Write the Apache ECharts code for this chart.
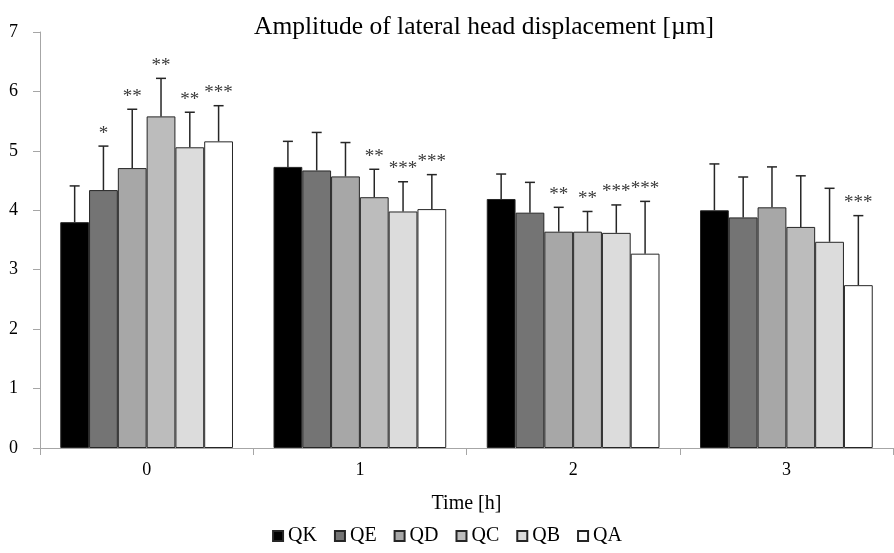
<!DOCTYPE html>
<html>
<head>
<meta charset="utf-8">
<script src="https://cdn.jsdelivr.net/npm/echarts@6/dist/echarts.min.js"></script>
<style>html,body{margin:0;padding:0;background:#fff}#c{width:894px;height:553px}</style>
</head>
<body>
<div id="c"></div>
<script>
const categories = ['0', '1', '2', '3'];
const seriesNames = ['QK', 'QE', 'QD', 'QC', 'QB', 'QA'];
const yTicks = [0, 1, 2, 3, 4, 5, 6, 7];

const QK = [3.80, 4.73, 4.19, 4.00];
const QE = [4.34, 4.67, 3.96, 3.88];
const QD = [4.71, 4.57, 3.64, 4.05];
const QC = [5.58, 4.22, 3.64, 3.72];
const QB = [5.06, 3.98, 3.62, 3.47];
const QA = [5.16, 4.02, 3.27, 2.74];

const QK_sd = [0.61, 0.43, 0.42, 0.78];
const QE_sd = [0.74, 0.64, 0.51, 0.68];
const QD_sd = [0.99, 0.57, 0.41, 0.68];
const QC_sd = [0.64, 0.47, 0.34, 0.86];
const QB_sd = [0.59, 0.50, 0.47, 0.90];
const QA_sd = [0.60, 0.58, 0.88, 1.17];

const QK_sig = ['', '', '', ''];
const QE_sig = ['*', '', '', ''];
const QD_sig = ['**', '', '**', ''];
const QC_sig = ['**', '**', '**', ''];
const QB_sig = ['**', '***', '***', ''];
const QA_sig = ['***', '***', '***', '***'];

const means = [QK, QE, QD, QC, QB, QA];
const sds = [QK_sd, QE_sd, QD_sd, QC_sd, QB_sd, QA_sd];
const sigs = [QK_sig, QE_sig, QD_sig, QC_sig, QB_sig, QA_sig];
const colors = ['#000000', '#747474', '#a7a7a7', '#bcbcbc', '#dcdcdc', '#ffffff'];

const CAT_GAP = 0.19;
const FONT = 'Liberation Serif';

const chart = echarts.init(document.getElementById('c'));

const series = [];
seriesNames.forEach((name, i) => {
  series.push({
    name: name,
    type: 'bar',
    data: means[i],
    barGap: '0%',
    barCategoryGap: (CAT_GAP * 100) + '%',
    itemStyle: { color: colors[i], borderColor: '#262626', borderWidth: 1 },
    z: 2
  });
});
seriesNames.forEach((name, i) => {
  series.push({
    type: 'custom',
    name: name + '_err',
    data: categories.map((c, k) => [k, means[i][k], means[i][k] + sds[i][k], sigs[i][k]]),
    encode: { x: 0, y: [1, 2] },
    z: 3,
    silent: true,
    renderItem: function (params, api) {
      const k = api.value(0);
      const base = api.coord([k, api.value(1)]);
      const top = api.coord([k, api.value(2)]);
      const catW = api.size([1, 0])[0];
      const barW = catW * (1 - CAT_GAP) / seriesNames.length;
      const x = base[0] + (i - (seriesNames.length - 1) / 2) * barW;
      const cap = 5;
      const style = { stroke: '#262626', lineWidth: 1.5 };
      const children = [
        { type: 'line', shape: { x1: x, y1: base[1], x2: x, y2: top[1] }, style: style },
        { type: 'line', shape: { x1: x - cap, y1: top[1], x2: x + cap, y2: top[1] }, style: style }
      ];
      const s = sigs[i][k];
      if (s) {
        children.push({
          type: 'text',
          style: {
            text: s, x: x, y: top[1] - 3, align: 'center', verticalAlign: 'bottom',
            fill: '#3a3a3a', font: '19px "' + FONT + '"'
          }
        });
      }
      return { type: 'group', children: children };
    }
  });
});

chart.setOption({
  animation: false,
  backgroundColor: '#fff',
  title: {
    text: 'Amplitude of lateral head displacement [µm]',
    left: 249, top: 9,
    textStyle: { fontFamily: FONT, fontSize: 25.5, fontWeight: 'normal', color: '#000' }
  },
  legend: {
    data: seriesNames,
    bottom: 2, left: 'center',
    icon: 'rect', itemWidth: 10, itemHeight: 10, itemGap: 17,
    textStyle: { fontFamily: FONT, fontSize: 20, color: '#000' }
  },
  grid: { left: 40, right: 1, top: 32, bottom: 105, containLabel: false },
  xAxis: {
    type: 'category',
    data: categories,
    name: 'Time [h]',
    nameLocation: 'middle',
    nameGap: 46,
    nameTextStyle: { fontFamily: FONT, fontSize: 20, color: '#000' },
    axisLine: { lineStyle: { color: '#a6a6a6', width: 1 } },
    axisTick: { show: true, alignWithLabel: false, length: 7, lineStyle: { color: '#a6a6a6' } },
    axisLabel: { fontFamily: FONT, fontSize: 18, color: '#000', margin: 13 }
  },
  yAxis: {
    type: 'value',
    min: yTicks[0], max: yTicks[yTicks.length - 1], interval: 1,
    axisLine: { show: true, lineStyle: { color: '#a6a6a6', width: 1 } },
    axisTick: { show: true, length: 7, lineStyle: { color: '#a6a6a6' } },
    splitLine: { show: false },
    axisLabel: { fontFamily: FONT, fontSize: 18, color: '#000', margin: 22 }
  },
  series: series
});
</script>
</body>
</html>
